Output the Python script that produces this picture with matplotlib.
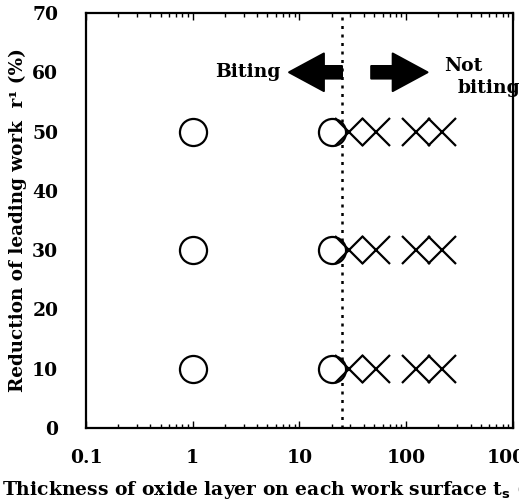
#Reduction of leading work vs oxide layer thickness (biting / not biting)
import matplotlib
matplotlib.use("Agg")
import matplotlib.pyplot as plt

plt.rcParams.update({"font.family":"serif",
    "font.serif":["DejaVu Serif","Liberation Serif"],
    "font.weight":"bold","axes.labelweight":"bold",
    "font.size":13.5,"axes.linewidth":1.6})

# biting (circles) and not biting (crosses)
bite_t = [1, 1, 1, 20, 20, 20]
bite_r = [10, 30, 50, 10, 30, 50]
nobite_t = [29, 52, 124, 215] * 3
nobite_r = [10]*4 + [30]*4 + [50]*4
t_limit = 25
xticks = [0.1, 1, 10, 100, 1000]
xticklabels = ["0.1", "1", "10", "100", "1000"]
yticks = [0, 10, 20, 30, 40, 50, 60, 70]

fig = plt.figure(figsize=(5.19,5.04), dpi=100)
ax = fig.add_axes([0.1657, 0.1508, 0.8227, 0.8234])

ax.plot(bite_t, bite_r, "o", ms=19.5, mfc="white", mec="black", mew=1.6, ls="none", zorder=3)
ax.plot(nobite_t, nobite_r, "x", ms=19.5, mec="black", mew=1.6, ls="none", zorder=3)
ax.axvline(t_limit, ls=(0,(1.2,2.2)), color="black", lw=1.8, zorder=1)

arw = dict(arrowstyle="simple,head_length=1.25,head_width=1.35,tail_width=0.45",
           fc="black", ec="black", lw=1.5, joinstyle="round", capstyle="round",
           mutation_scale=20, shrinkA=0, shrinkB=0)
ax.annotate("", xy=(8.0,60), xytext=(t_limit,60), arrowprops=arw, zorder=4)
ax.annotate("", xy=(158,60), xytext=(47,60), arrowprops=arw, zorder=4)
ax.text(6.6, 60, "Biting", ha="right", va="center")
ax.text(225, 61, "Not", ha="left", va="center")
ax.text(300, 57.3, "biting", ha="left", va="center", clip_on=False)

ax.set_xscale("log")
ax.set_xlim(0.1, 1000); ax.set_ylim(0, 70)
ax.set_xticks(xticks); ax.set_xticklabels(xticklabels)
ax.set_yticks(yticks)
ax.tick_params(which="both", direction="in", top=True, width=1.0)
ax.tick_params(axis="x", which="major", length=5, pad=15)
ax.tick_params(axis="x", which="minor", length=3)
ax.tick_params(axis="y", length=0, pad=20)

ax.set_ylabel("Reduction of leading work  r\u00b9 (%)", labelpad=4, fontsize=13.2)
fig.text(0.003, 0.028, "Thickness of oxide layer on each work surface t$_\\mathbf{s}$ (\u03bcm)",
         ha="left", va="center")

fig.savefig("out.png", dpi=100)
